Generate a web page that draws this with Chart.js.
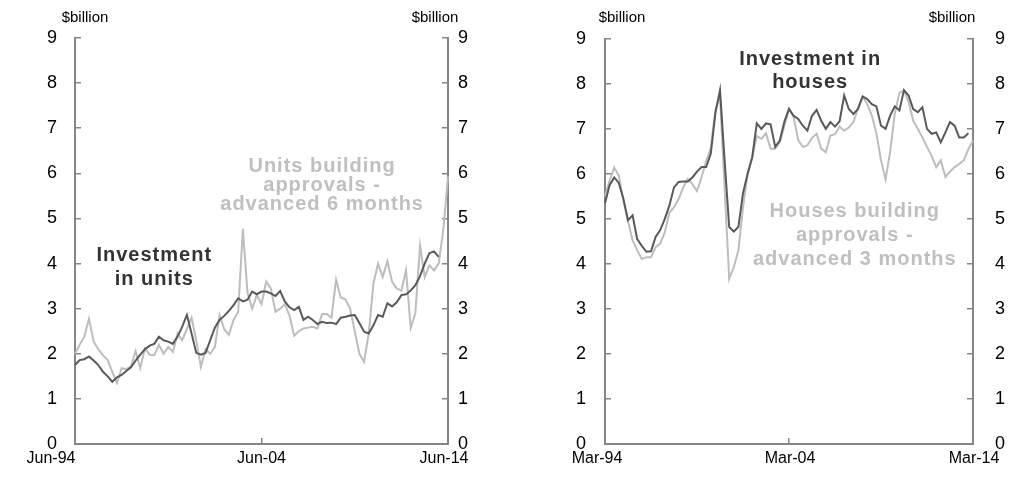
<!DOCTYPE html>
<html>
<head>
<meta charset="utf-8">
<script src="https://cdn.jsdelivr.net/npm/chart.js@4.4.1/dist/chart.umd.min.js"></script>
<style>
  body { margin: 0; background: #fff; }
  .panel { position: absolute; top: 0; height: 483px; }
</style>
</head>
<body>
<div class="panel" style="left:0;width:505px"><canvas id="unitsChart" width="505" height="483"></canvas></div>
<div class="panel" style="left:505px;width:504px"><canvas id="housesChart" width="504" height="483"></canvas></div>
<script>
// quarterly, $billion
const unitsTicks = ['Jun-94', 'Jun-04', 'Jun-14'];
const housesTicks = ['Mar-94', 'Mar-04', 'Mar-14'];

const unitsInvestment = [
  1.75, 1.86, 1.88, 1.94, 1.85, 1.75, 1.60, 1.50, 1.38, 1.48,
  1.53, 1.62, 1.70, 1.85, 1.98, 2.10, 2.18, 2.22, 2.38, 2.30,
  2.27, 2.22, 2.38, 2.60, 2.86, 2.45, 2.02, 1.98, 2.02, 2.30,
  2.58, 2.75, 2.84, 2.95, 3.08, 3.23, 3.16, 3.20, 3.38, 3.32,
  3.38, 3.38, 3.34, 3.28, 3.39, 3.16, 3.03, 2.97, 3.04, 2.75,
  2.82, 2.75, 2.66, 2.71, 2.68, 2.69, 2.66, 2.80, 2.82, 2.85,
  2.86, 2.68, 2.49, 2.45, 2.63, 2.86, 2.82, 3.12, 3.05, 3.14,
  3.30, 3.32, 3.40, 3.52, 3.72, 4.00, 4.23, 4.27, 4.15
];
const unitsApprovals = [
  2.00, 2.20, 2.38, 2.78, 2.27, 2.10, 1.97, 1.86, 1.60, 1.35,
  1.68, 1.66, 1.72, 2.06, 1.68, 2.12, 1.98, 1.97, 2.20, 2.00,
  2.15, 2.04, 2.45, 2.30, 2.55, 2.80, 2.30, 1.71, 2.10, 2.00,
  2.15, 2.86, 2.55, 2.42, 2.75, 2.93, 4.77, 3.35, 3.00, 3.30,
  3.10, 3.60, 3.45, 2.93, 3.00, 3.10, 2.85, 2.40, 2.50, 2.56,
  2.58, 2.60, 2.56, 2.88, 2.88, 2.80, 3.64, 3.25, 3.21, 3.00,
  2.50, 2.00, 1.82, 2.45, 3.55, 4.00, 3.70, 4.05, 3.60, 3.45,
  3.40, 3.85, 2.57, 2.90, 4.40, 3.70, 3.96, 3.85, 4.00, 4.75,
  5.93
];

const housesInvestment = [
  5.35, 5.75, 5.92, 5.80, 5.45, 4.97, 5.08, 4.55, 4.40, 4.27,
  4.28, 4.60, 4.75, 5.00, 5.30, 5.70, 5.82, 5.83, 5.83, 5.92,
  6.05, 6.15, 6.15, 6.45, 7.35, 7.86, 6.30, 4.82, 4.72, 4.82,
  5.57, 6.00, 6.37, 7.12, 7.00, 7.12, 7.10, 6.60, 6.74, 7.16,
  7.44, 7.29, 7.22, 7.07, 6.96, 7.29, 7.42, 7.18, 7.00, 7.15,
  7.05, 7.17, 7.74, 7.44, 7.33, 7.44, 7.72, 7.66, 7.55, 7.50,
  7.07, 7.00, 7.30, 7.50, 7.41, 7.86, 7.74, 7.44, 7.37, 7.48,
  7.00, 6.89, 6.92, 6.70, 6.92, 7.15, 7.07, 6.81, 6.81, 6.90
];
const housesApprovals = [
  5.50, 5.85, 6.14, 5.96, 5.40, 4.95, 4.52, 4.30, 4.11, 4.15,
  4.15, 4.37, 4.45, 4.70, 5.14, 5.26, 5.44, 5.70, 5.89, 5.77,
  5.62, 5.93, 6.29, 6.58, 7.43, 7.73, 5.70, 3.67, 3.93, 4.30,
  5.25, 6.00, 6.36, 6.84, 6.78, 6.90, 6.56, 6.56, 6.70, 7.07,
  7.45, 7.26, 6.75, 6.60, 6.63, 6.80, 6.89, 6.56, 6.48, 6.85,
  6.88, 7.05, 6.96, 7.03, 7.15, 7.45, 7.72, 7.55, 7.30, 6.90,
  6.30, 5.88, 6.50, 7.34, 7.80, 7.85, 7.60, 7.18, 7.00, 6.81,
  6.60, 6.40, 6.15, 6.30, 5.93, 6.05, 6.15, 6.22, 6.30, 6.55,
  6.74
];

function quarters(firstMonth, firstYear, count) {
  const months = ['Mar', 'Jun', 'Sep', 'Dec'];
  let q = months.indexOf(firstMonth), y = firstYear, out = [];
  for (let i = 0; i < count; i++) {
    out.push(months[q] + '-' + String(y % 100).padStart(2, '0'));
    q++;
    if (q > 3) { q = 0; y++; }
  }
  return out;
}

Chart.defaults.font.family = '"Liberation Sans", Arial, sans-serif';
Chart.defaults.color = '#000';

const AXIS = '#868686';

// $billion captions, x tick labels and the series notes
const panelText = {
  id: 'panelText',
  afterDraw(chart, args, opts) {
    const ctx = chart.ctx, xs = chart.scales.x, ys = chart.scales.y;
    ctx.save();
    ctx.textAlign = 'center';
    ctx.textBaseline = 'middle';
    ctx.fillStyle = '#000';
    ctx.font = '15px "Liberation Sans", Arial';
    opts.units.forEach(p => ctx.fillText('$billion', p[0], p[1]));
    ctx.font = '16px "Liberation Sans", Arial';
    const names = opts.dateLabels, shift = opts.shift;
    for (let k = 0; k < names.length; k++) {
      ctx.fillText(names[k], xs.getPixelForValue(k * 40) + shift[k], xs.top + 15);
    }
    ctx.font = 'bold 20px "Liberation Sans", Arial';
    ctx.letterSpacing = '1px';
    opts.notes.forEach(n => {
      ctx.fillStyle = n.color;
      const x = xs.getPixelForValue(n.at[0]);
      const y = ys.getPixelForValue(n.at[1]);
      n.lines.forEach((line, k) => ctx.fillText(line, x, y + k * n.gap));
    });
    ctx.restore();
  }
};

function makePanel(id, tickLabels, investment, approvals, pads, text) {
  const labels = quarters(tickLabels[0].slice(0, 3), 1994, 81);
  const axisY = (position, padding, width) => ({
    position: position,
    min: 0, max: 9,
    ticks: { stepSize: 1, padding: padding, font: { size: 18 } },
    grid: { drawOnChartArea: false, tickLength: -6, color: AXIS, lineWidth: 1.5 },
    border: { color: AXIS, width: 2 },
    afterFit: s => { s.width = width; }
  });
  text.dateLabels = tickLabels;
  new Chart(document.getElementById(id), {
    type: 'line',
    data: {
      labels: labels,
      datasets: [{
        data: investment,
        borderColor: '#595959',
        borderWidth: 2,
        pointRadius: 0
      }, {
        data: approvals,
        borderColor: '#bdbdbd',
        borderWidth: 2,
        pointRadius: 0
      }]
    },
    options: {
      responsive: false,
      animation: false,
      layout: { padding: { top: 38, left: 0, right: 0, bottom: 0 } },
      plugins: { legend: { display: false }, tooltip: { enabled: false }, panelText: text },
      scales: {
        x: {
          offset: false,
          ticks: { display: false, autoSkip: false, maxRotation: 0 },
          grid: {
            drawOnChartArea: false, tickLength: -6, lineWidth: 1.5,
            color: c => c.index % 40 === 0 ? AXIS : 'rgba(0,0,0,0)'
          },
          border: { color: AXIS, width: 2 },
          afterFit: s => { s.height = 39; }
        },
        y: axisY('left', pads[0], pads[1]),
        y2: axisY('right', pads[2], pads[3])
      }
    },
    plugins: [panelText]
  });
}

makePanel('unitsChart', unitsTicks, unitsInvestment, unitsApprovals, [24, 75, 16, 57], {
  units: [[85, 18], [435, 18]],
  shift: [-24, 0, -4],
  notes: [
    { lines: ['Investment', 'in units'], at: [17, 4.19], gap: 24, color: '#333' },
    { lines: ['Units building', 'approvals -', 'advanced 6 months'], at: [53, 6.16], gap: 19, color: '#bfbfbf' }
  ]
});

makePanel('housesChart', housesTicks, housesInvestment, housesApprovals, [25, 100, 28, 36], {
  units: [[117, 18], [447, 18]],
  shift: [-8, 1, 1],
  notes: [
    { lines: ['Investment in', 'houses'], at: [44.6, 8.54], gap: 23, color: '#333' },
    { lines: ['Houses building', 'approvals -', 'advanced 3 months'], at: [54.3, 5.17], gap: 24, color: '#bfbfbf' }
  ]
});
</script>
</body>
</html>
